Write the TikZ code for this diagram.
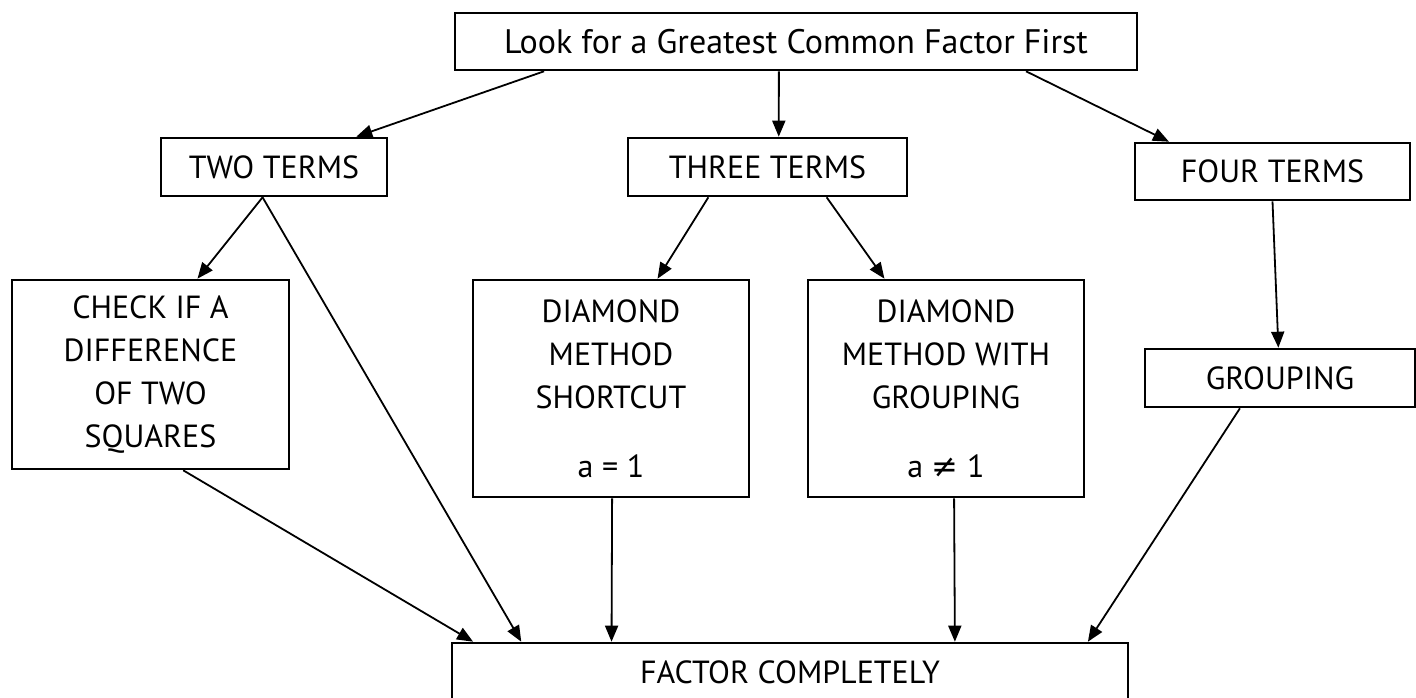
\documentclass[tikz,border=0pt]{standalone}
\usepackage{fontspec}
\setmainfont{PT Sans}
\newfontfamily\symf{DejaVu Sans}
\usetikzlibrary{arrows.meta,calc}
\tikzset{
  box/.style={draw, line width=2.6pt, rectangle, inner sep=0pt, align=center, font=\fontsize{32}{43}\selectfont},
  conn/.style={line width=1.8pt, -{Triangle[length=16pt,width=13pt]}},
}
\begin{document}
\begin{tikzpicture}[x=1pt,y=-1pt]
\useasboundingbox (0,0) rectangle (1416,698);
\fill[white] (0,0) rectangle (1416,698);
\begin{scope}
\clip (0,0) rectangle (1416,698);
\node[box, minimum width=682pt, minimum height=57pt, font=\fontsize{34}{43}\selectfont] (top) at (796,41.5) {Look for a Greatest Common Factor First};
\node[box, minimum width=226pt, minimum height=58pt] (two) at (274,167) {TWO TERMS};
\node[box, minimum width=279pt, minimum height=58pt] (three) at (767.5,167) {THREE TERMS};
\node[box, minimum width=275pt, minimum height=57pt] (four) at (1272.5,171.5) {FOUR TERMS};
\node[box, minimum width=277pt, minimum height=189pt] (check) at (150.5,374.5) {CHECK IF A\\DIFFERENCE\\OF TWO\\SQUARES};
\node[box, minimum width=276pt, minimum height=217pt] (dsc) at (611,388.5) {DIAMOND\\METHOD\\SHORTCUT\\[26pt]a = 1};
\node[box, minimum width=276pt, minimum height=217pt] (dmg) at (946,388.5) {DIAMOND\\METHOD WITH\\GROUPING\\[26pt]a {\symf ≠} 1};
\node[box, minimum width=270pt, minimum height=58pt] (grp) at (1280,378) {GROUPING};
\node[box, minimum width=676pt, minimum height=110pt] (fac) at (790,698) {};
\node[font=\fontsize{32}{43}\selectfont] (factxt) at (790,672) {FACTOR COMPLETELY};
\end{scope}
\draw[conn] ($(top.south west)!0.132!(top.south east)$) -- ($(two.north west)!0.86!(two.north east)$);
\draw[conn] ($(top.south west)!0.475!(top.south east)$) -- ($(three.north west)!0.54!(three.north east)$);
\draw[conn] ($(top.south west)!0.836!(top.south east)$) -- ($(four.north west)!0.127!(four.north east)$);
\draw[conn] ($(two.south west)!0.45!(two.south east)$) -- ($(check.north west)!0.668!(check.north east)$);
\draw[conn] ($(two.south west)!0.45!(two.south east)$) -- ($(fac.north west)!0.104!(fac.north east)$);
\draw[conn] ($(three.south west)!0.29!(three.south east)$) -- ($(dsc.north west)!0.667!(dsc.north east)$);
\draw[conn] ($(three.south west)!0.71!(three.south east)$) -- ($(dmg.north west)!0.279!(dmg.north east)$);
\draw[conn] ($(four.south west)!0.5!(four.south east)$) -- ($(grp.north west)!0.494!(grp.north east)$);
\draw[conn] ($(check.south west)!0.617!(check.south east)$) -- ($(fac.north west)!0.033!(fac.north east)$);
\draw[conn] ($(dsc.south west)!0.504!(dsc.south east)$) -- ($(fac.north west)!0.237!(fac.north east)$);
\draw[conn] ($(dmg.south west)!0.529!(dmg.south east)$) -- ($(fac.north west)!0.743!(fac.north east)$);
\draw[conn] ($(grp.south west)!0.353!(grp.south east)$) -- ($(fac.north west)!0.939!(fac.north east)$);
\end{tikzpicture}
\end{document}
